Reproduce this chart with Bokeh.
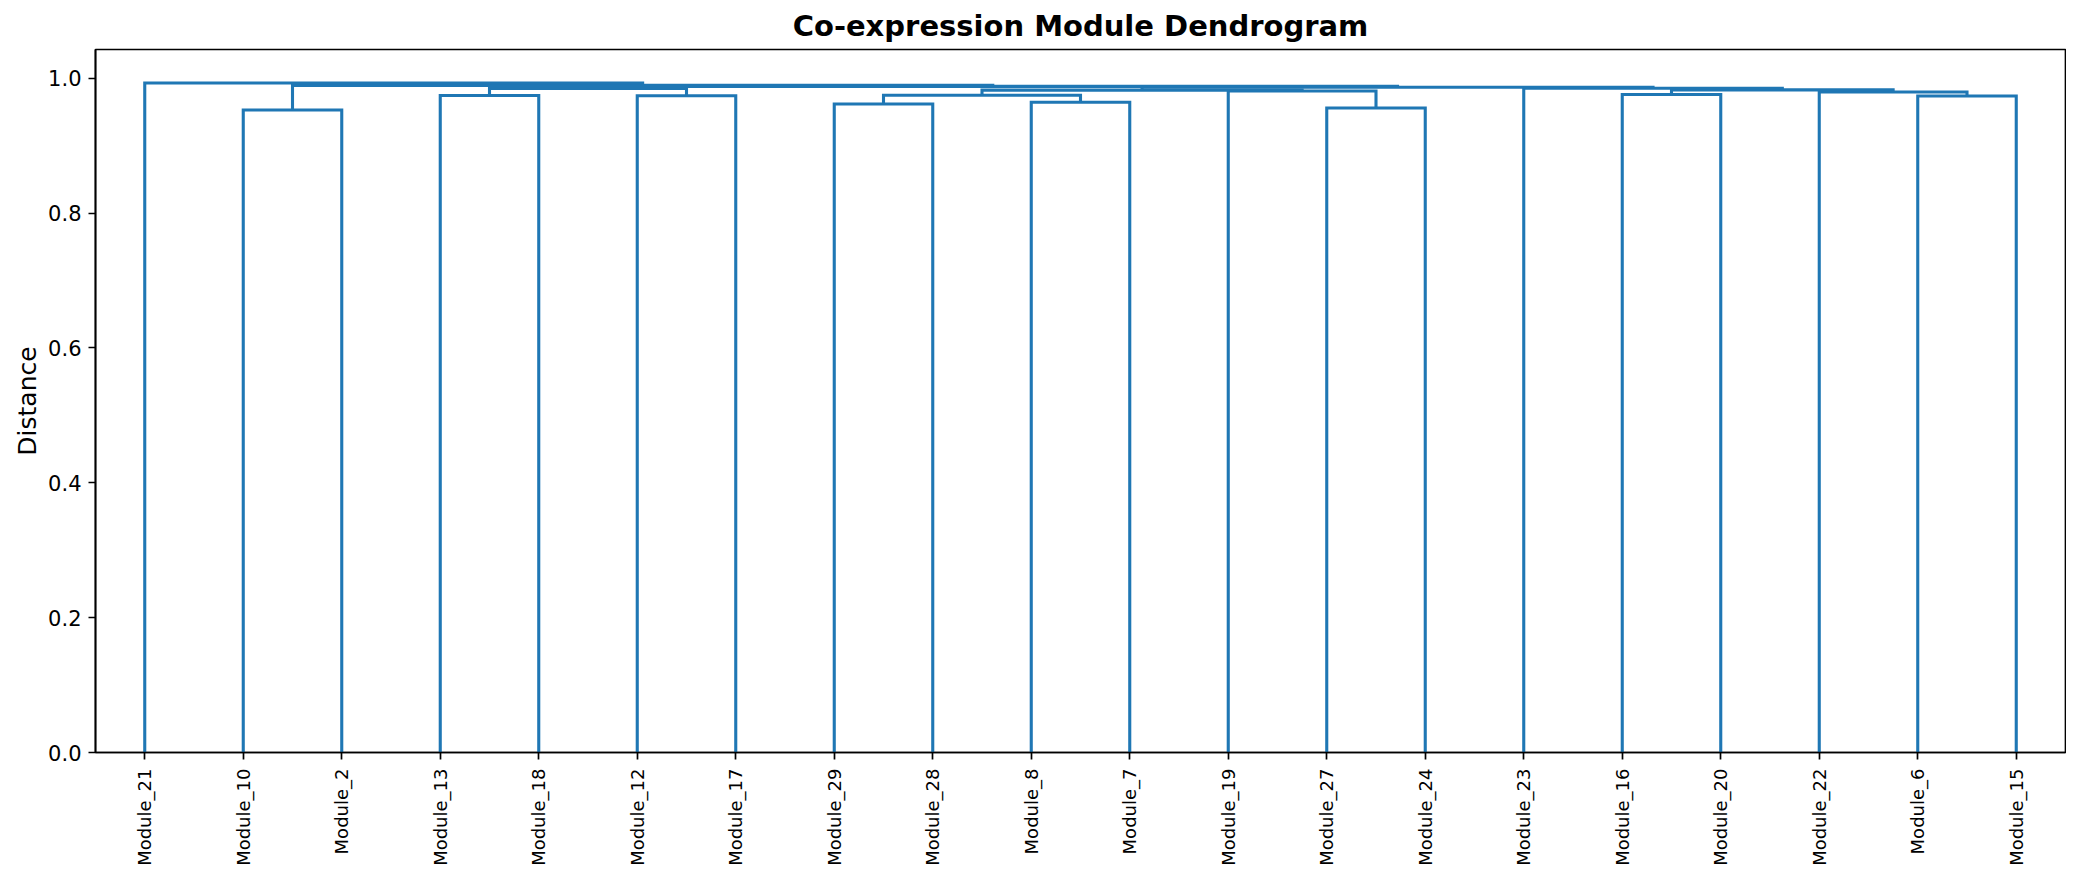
import math
from bokeh.plotting import figure
from bokeh.models import Range1d, FixedTicker, NumeralTickFormatter
from bokeh.embed import file_html
from bokeh.resources import INLINE

# Leaf order along the x axis (left to right)
leaf_labels = ["Module_21", "Module_10", "Module_2", "Module_13", "Module_18",
               "Module_12", "Module_17", "Module_29", "Module_28", "Module_8",
               "Module_7", "Module_19", "Module_27", "Module_24", "Module_23",
               "Module_16", "Module_20", "Module_22", "Module_6", "Module_15"]

# Merges (linkage), children are leaves or earlier clusters "c<k>"
merge_left = ["Module_10", "Module_27", "Module_29", "Module_8", "Module_6",
              "Module_12", "Module_13", "c2", "Module_16", "Module_22",
              "Module_19", "c7", "c8", "c6", "Module_23",
              "c11", "c13", "c0", "Module_21"]
merge_right = ["Module_2", "Module_24", "Module_28", "Module_7", "Module_15",
               "Module_17", "Module_18", "c3", "Module_20", "c4",
               "c1", "c10", "c9", "c5", "c12",
               "c14", "c15", "c16", "c17"]
merge_height = [0.9530, 0.9560, 0.9620, 0.9645, 0.9738,
                0.9742, 0.9745, 0.9748, 0.9760, 0.9797,
                0.9812, 0.9825, 0.9828, 0.9850, 0.9853,
                0.9868, 0.9880, 0.9896, 0.9931]

y_tick_values = [0.0, 0.2, 0.4, 0.6, 0.8, 1.0]

# scipy-style layout: leaf i at 10*i + 5
pos = {}
hgt = {}
for i, lab in enumerate(leaf_labels):
    pos[lab] = 10 * i + 5
    hgt[lab] = 0.0
xs, ys = [], []
for k, (a, b, h) in enumerate(zip(merge_left, merge_right, merge_height)):
    xa, xb = pos[a], pos[b]
    xs.append([xa, xa, xb, xb])
    ys.append([hgt[a], h, h, hgt[b]])
    pos[f"c{k}"] = (xa + xb) / 2
    hgt[f"c{k}"] = h

n = len(leaf_labels)
p = figure(width=2066, height=868,
           x_range=Range1d(0, 10 * n), y_range=Range1d(0, max(merge_height) * 1.05),
           output_backend="svg", toolbar_location=None,
           min_border_left=95, min_border_right=1, min_border_top=49, min_border_bottom=115,
           background_fill_color="white", border_fill_color="white")

p.multi_line(xs=xs, ys=ys, line_color="#1f77b4", line_width=3.1, line_join="miter")

p.title.text = "Co-expression Module Dendrogram"
p.title.align = "center"
p.title.text_font = "DejaVu Sans"
p.title.text_font_size = "29px"
p.title.text_font_style = "bold"
p.title.text_color = "black"
p.title.standoff = 13

p.grid.visible = False
p.outline_line_color = "black"
p.outline_line_width = 1.7
p.outline_line_alpha = 1.0

for ax in (p.xaxis[0], p.yaxis[0]):
    ax.axis_line_color = "black"
    ax.axis_line_width = 1.7
    ax.major_tick_line_color = "black"
    ax.major_tick_line_width = 1.7
    ax.major_tick_out = 7
    ax.major_tick_in = 0
    ax.minor_tick_out = 0
    ax.minor_tick_in = 0
    ax.major_label_text_font = "DejaVu Sans"
    ax.major_label_text_color = "black"
    ax.major_label_standoff = 7

leaf_ticks = [10 * i + 5 for i in range(n)]
p.xaxis.ticker = FixedTicker(ticks=leaf_ticks)
p.xaxis.major_label_overrides = {t: lab for t, lab in zip(leaf_ticks, leaf_labels)}
p.xaxis.major_label_orientation = math.pi / 2
p.xaxis.major_label_text_font_size = "18px"
p.xaxis.major_label_standoff = 9

p.yaxis.ticker = FixedTicker(ticks=y_tick_values)
p.yaxis.formatter = NumeralTickFormatter(format="0.0")
p.yaxis.major_label_text_font_size = "21px"
p.yaxis.axis_label = "Distance"
p.yaxis.axis_label_text_font = "DejaVu Sans"
p.yaxis.axis_label_text_font_size = "25px"
p.yaxis.axis_label_text_font_style = "normal"
p.yaxis.axis_label_text_color = "black"
p.yaxis.axis_label_standoff = 3

open("out.html", "w").write(file_html(p, INLINE))
